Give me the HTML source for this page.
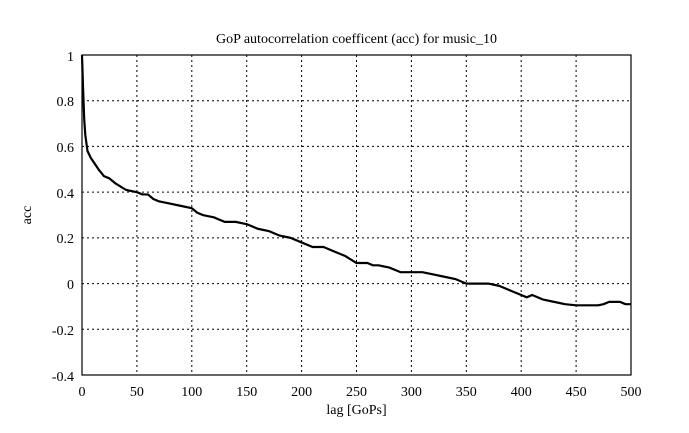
<!DOCTYPE html>
<html><head><style>
html,body{margin:0;padding:0;background:#fff;}
svg{display:block;font-family:"Liberation Serif",serif;}
</style></head><body>
<svg width="689" height="433" viewBox="0 0 689 433">
<rect width="689" height="433" fill="#fff"/>
<g stroke="#000" stroke-width="1" stroke-dasharray="2,3">
<line x1="136.9" y1="55" x2="136.9" y2="375"/>
<line x1="191.8" y1="55" x2="191.8" y2="375"/>
<line x1="246.7" y1="55" x2="246.7" y2="375"/>
<line x1="301.6" y1="55" x2="301.6" y2="375"/>
<line x1="356.5" y1="55" x2="356.5" y2="375"/>
<line x1="411.4" y1="55" x2="411.4" y2="375"/>
<line x1="466.3" y1="55" x2="466.3" y2="375"/>
<line x1="521.2" y1="55" x2="521.2" y2="375"/>
<line x1="576.1" y1="55" x2="576.1" y2="375"/>
<line x1="82" y1="100.7" x2="631" y2="100.7"/>
<line x1="82" y1="146.4" x2="631" y2="146.4"/>
<line x1="82" y1="192.1" x2="631" y2="192.1"/>
<line x1="82" y1="237.9" x2="631" y2="237.9"/>
<line x1="82" y1="283.6" x2="631" y2="283.6"/>
<line x1="82" y1="329.3" x2="631" y2="329.3"/>
</g>
<rect x="82" y="55" width="549" height="320" fill="none" stroke="#000" stroke-width="1.2"/>
<g transform="translate(82,283.6) scale(1.098,-228.6)">
<polyline fill="none" stroke="#000" stroke-width="2.2" vector-effect="non-scaling-stroke" stroke-linejoin="round" points="0,1 1,0.85 2,0.72 3,0.65 5,0.58 8,0.55 15,0.5 20,0.47 25,0.46 30,0.44 40,0.41 50,0.4 55,0.39 60,0.39 65,0.37 70,0.36 80,0.35 90,0.34 100,0.33 105,0.31 110,0.3 120,0.29 125,0.28 130,0.27 140,0.27 150,0.26 160,0.24 170,0.23 180,0.21 190,0.2 200,0.18 210,0.16 220,0.16 230,0.14 240,0.12 250,0.09 260,0.09 265,0.08 270,0.08 280,0.07 290,0.05 300,0.05 310,0.05 320,0.04 330,0.03 340,0.02 350,0.0 360,0.0 370,0.0 380,-0.01 390,-0.03 400,-0.05 405,-0.06 410,-0.05 420,-0.07 430,-0.08 440,-0.09 450,-0.095 460,-0.095 470,-0.095 475,-0.09 480,-0.08 490,-0.08 495,-0.09 500,-0.09"/>
</g>
<g font-size="14" text-anchor="end">
<text x="74" y="61">1</text>
<text x="74" y="106">0.8</text>
<text x="74" y="152">0.6</text>
<text x="74" y="198">0.4</text>
<text x="74" y="243">0.2</text>
<text x="74" y="289">0</text>
<text x="74" y="335">-0.2</text>
<text x="74" y="381">-0.4</text>
</g>
<g font-size="14" text-anchor="middle">
<text x="82" y="396">0</text>
<text x="136.9" y="396">50</text>
<text x="191.8" y="396">100</text>
<text x="246.7" y="396">150</text>
<text x="301.6" y="396">200</text>
<text x="356.5" y="396">250</text>
<text x="411.4" y="396">300</text>
<text x="466.3" y="396">350</text>
<text x="521.2" y="396">400</text>
<text x="576.1" y="396">450</text>
<text x="631" y="396">500</text>
<text x="356.5" y="414">lag [GoPs]</text>
<text x="356.5" y="43">GoP autocorrelation coefficent (acc) for music_10</text>
<text x="0" y="0" transform="translate(31,215) rotate(-90)">acc</text>
</g>
</svg>
</body></html>
